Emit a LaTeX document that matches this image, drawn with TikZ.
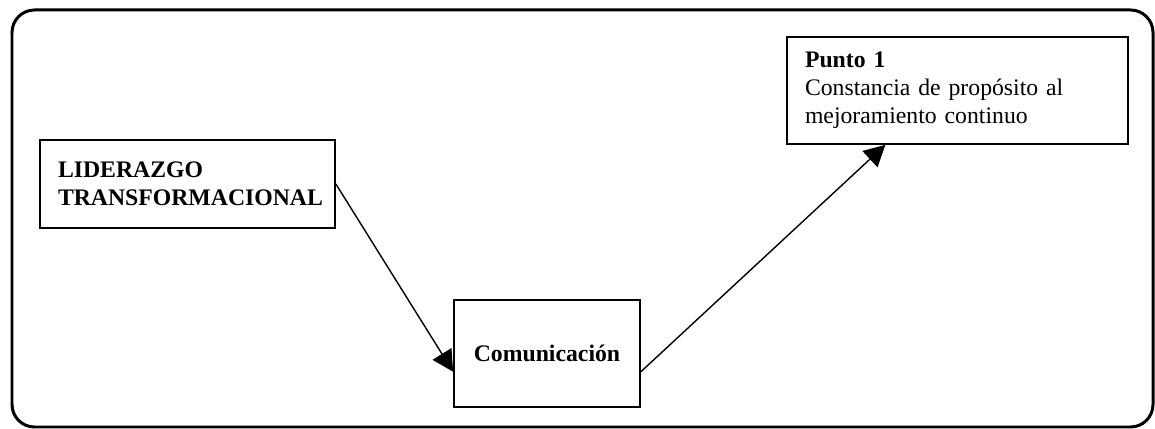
\documentclass[tikz,border=0pt]{standalone}
\usepackage{fontspec}
\setmainfont{Liberation Serif}
\usetikzlibrary{arrows.meta, positioning}

\begin{document}
\begin{tikzpicture}[
        >={Triangle[length=0.42cm, width=0.44cm]},
        caja/.style={draw=black, line width=1pt, inner xsep=0.36cm, inner ysep=0pt, align=left, font=\fontsize{13.5}{16}\selectfont},
        flecha/.style={->, line width=0.8pt}
    ]
    \useasboundingbox (0,0) rectangle (23.1,8.58);

    % Marco exterior con esquinas redondeadas
    \draw[line width=1.7pt, rounded corners=0.45cm] (0.24,0.04) rectangle (23.06,8.38);

    % Cajas del esquema
    \node[caja, text width=5.18cm, minimum height=1.76cm] (lider) at (3.75,4.9) {\textbf{LIDERAZGO}\\\textbf{TRANSFORMACIONAL}};
    \node[caja, align=center, minimum width=3.72cm, minimum height=2.14cm] (comun) at (10.94,1.51) {\textbf{Comunicación}};
    \node[caja, text width=6.1cm, minimum height=2.14cm] (punto) at (19.15,6.77) {\textbf{Punto 1}\\Constancia de propósito al\\mejoramiento continuo};

    % Conexiones entre cajas
    \draw[flecha] (lider.east) -- (comun.191);
    \draw[flecha] (comun.-11) -- (punto.217);
\end{tikzpicture}
\end{document}
